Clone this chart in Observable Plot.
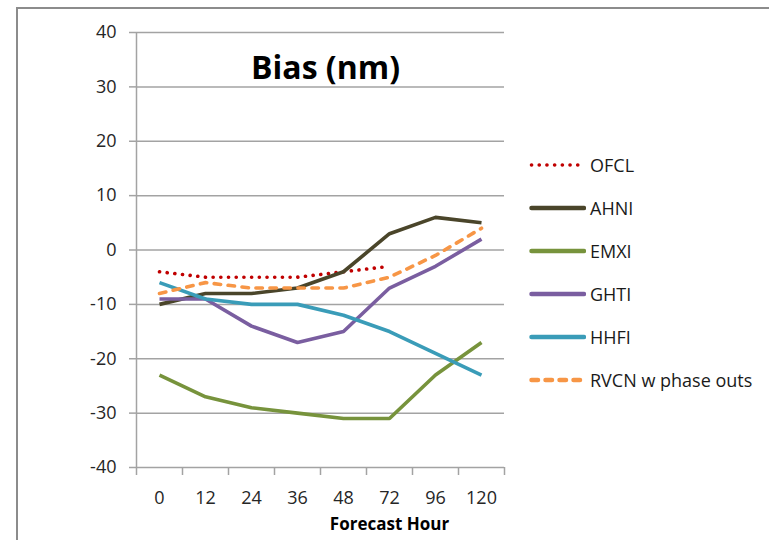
<!DOCTYPE html>
<html>
<head>
<meta charset="utf-8">
<script src="https://cdn.jsdelivr.net/npm/d3@7"></script>
<script src="https://cdn.jsdelivr.net/npm/@observablehq/plot@0.6"></script>
<style>
  html, body { margin: 0; padding: 0; background: #fff; }
  #wrap { position: relative; width: 769px; height: 540px; overflow: hidden; background: #fff; font-family: "Open Sans", sans-serif; }
  #frame { position: absolute; left: 16px; top: 7px; width: 780px; height: 560px; border: 2px solid #8c8c8c; box-sizing: border-box; }
  #chart { position: absolute; left: 0; top: 0; }
  #legend { position: absolute; left: 0; top: 0; }
  .row { position: absolute; left: 528px; height: 26px; display: flex; align-items: center; font-size: 18px; color: #1a1a1a; white-space: nowrap; }
  .row svg { margin-right: 4px; }
</style>
</head>
<body>
<div id="wrap">
  <div id="frame"></div>
  <div id="chart"></div>
  <div id="legend"></div>
</div>
<script>
const hours = ["0", "12", "24", "36", "48", "72", "96", "120"];
const yTicks = [-40, -30, -20, -10, 0, 10, 20, 30, 40];

const OFCL = [-4, -5, -5, -5, -4, -3];
const AHNI = [-10, -8, -8, -7, -4, 3, 6, 5];
const EMXI = [-23, -27, -29, -30, -31, -31, -23, -17];
const GHTI = [-9, -9, -14, -17, -15, -7, -3, 2];
const HHFI = [-6, -9, -10, -10, -12, -15, -19, -23];
const RVCN = [-8, -6, -7, -7, -7, -5, -1, 4];

const seriesNames = ["OFCL", "AHNI", "EMXI", "GHTI", "HHFI", "RVCN w phase outs"];
const seriesValues = [OFCL, AHNI, EMXI, GHTI, HHFI, RVCN];
const seriesColors = ["#c00000", "#4a452a", "#77933c", "#7a5ea0", "#3a9cb8", "#f79646"];
const seriesDash = ["0.1 7.6", null, null, null, null, "6.5 7.5"];

const series = seriesNames.map((name, k) => ({
  name,
  color: seriesColors[k],
  dash: seriesDash[k],
  data: seriesValues[k].map((v, i) => ({ i, hour: hours[i], value: v }))
}));

const boundaries = d3.range(hours.length + 1).map(i => i - 0.5);
const grey = "#a3a3a3";

const lineMarks = series.map(s =>
  Plot.line(s.data, {
    x: "i", y: "value",
    stroke: s.color,
    strokeWidth: 3.6,
    strokeDasharray: s.dash,
    strokeLinecap: s.dash ? "round" : "butt",
    strokeLinejoin: "round"
  })
);

const chart = Plot.plot({
  width: 769,
  height: 540,
  marginLeft: 136,
  marginRight: 265,
  marginTop: 32,
  marginBottom: 73,
  style: { fontFamily: "'Open Sans', sans-serif", fontSize: "18px", color: "#262626", background: "transparent", overflow: "visible" },
  x: { domain: [-0.5, hours.length - 0.5], axis: null, label: null },
  y: { domain: [-40, 40], axis: null, label: null },
  marks: [
    Plot.ruleY(yTicks.filter(d => d !== -40), { stroke: grey, strokeWidth: 1.5 }),
    Plot.axisY(yTicks, { anchor: "left", label: null, tickSize: 7, tickPadding: 13, stroke: grey, strokeWidth: 1.5, tickFormat: d => String(d), fill: "#262626" }),
    Plot.ruleX([-0.5], { stroke: grey, strokeWidth: 1.5 }),
    Plot.ruleY([-40], { stroke: grey, strokeWidth: 1.5 }),
    Plot.axisX(boundaries, { anchor: "bottom", label: null, tickSize: 8, stroke: grey, strokeWidth: 1.5, tickFormat: () => "" }),
    Plot.axisX(d3.range(hours.length), { anchor: "bottom", label: null, tickSize: 0, tickPadding: 24, tickFormat: i => hours[i], fill: "#262626" }),
    ...lineMarks,
    Plot.text(["Bias (nm)"], { frameAnchor: "top", dx: 5, dy: 36, lineAnchor: "middle", fontSize: 32, fontWeight: "bold", fill: "#000" }),
    Plot.text(["Forecast Hour"], { frameAnchor: "bottom", dx: 69, dy: 57, lineAnchor: "middle", fontSize: 17, fontWeight: "bold", fill: "#000" })
  ]
});
document.getElementById("chart").appendChild(chart);

// Legend
const legend = document.getElementById("legend");
series.forEach((s, k) => {
  const row = document.createElement("div");
  row.className = "row";
  row.style.top = (165 + 43 * k - 13) + "px";
  const svg = d3.create("svg").attr("width", 58).attr("height", 10);
  svg.append("line")
    .attr("x1", 3.5).attr("x2", 56).attr("y1", 5).attr("y2", 5)
    .attr("stroke", s.color).attr("stroke-width", s.dash && k === 0 ? 3.6 : 4.5)
    .attr("stroke-linecap", "round")
    .attr("stroke-dasharray", s.dash);
  row.appendChild(svg.node());
  const span = document.createElement("span");
  span.textContent = s.name;
  row.appendChild(span);
  legend.appendChild(row);
});
</script>
</body>
</html>
